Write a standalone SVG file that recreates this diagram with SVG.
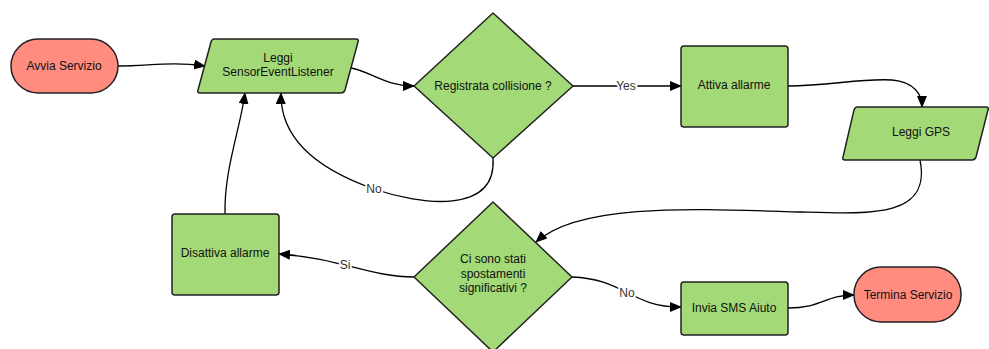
<svg xmlns="http://www.w3.org/2000/svg" width="989" height="349" viewBox="0 0 989 349">
  <defs>
    <marker id="arrow" markerWidth="12" markerHeight="10" refX="11" refY="5" orient="auto" markerUnits="userSpaceOnUse">
      <path d="M0,0 L12,5 L0,10 Z" fill="#000"/>
    </marker>
    <style>
      .term { fill: #FF8C7F; stroke: #222; stroke-width: 1.5; }
      .proc { fill: #A3D977; stroke: #222; stroke-width: 1.5; stroke-linejoin: round; }
      .lbl { font-family: "Liberation Sans", Arial, sans-serif; font-size: 12px; fill: #111; text-anchor: middle; }
      .edge { fill: none; stroke: #000; stroke-width: 1.3; marker-end: url(#arrow); }
      .elbl { font-family: "Liberation Sans", Arial, sans-serif; font-size: 12px; fill: #333; text-anchor: middle; stroke: #fff; stroke-width: 4; paint-order: stroke; }
    </style>
  </defs>
  <rect width="989" height="349" fill="#fff"/>

  <!-- connectors -->
  <g id="connectors">
    <path class="edge" d="M118,66 C150,66 170,61 205,66"/>
    <path class="edge" d="M351,68 C372,72 385,86 414,86"/>
    <path class="edge" d="M573,86 L681,86"/>
    <path class="edge" d="M788,86 C830,86 860,78 892,80 C915,82 922,95 922,107"/>
    <path class="edge" d="M920,160 C932,218 870,214 800,212 C700,209 580,202 536,242"/>
    <path class="edge" d="M414,277 C370,277 340,258 279,254"/>
    <path class="edge" d="M572,277 C625,279 630,307 681,307"/>
    <path class="edge" d="M788,308 C822,308 825,295 854,295"/>
    <path class="edge" d="M493,158 C497,215 420,205 374,189 C320,170 280,140 281,93"/>
    <path class="edge" d="M225,214 C224,170 240,130 245,93"/>
    <text class="elbl" x="626" y="90">Yes</text>
    <text class="elbl" x="374" y="193">No</text>
    <text class="elbl" x="345" y="269">Si</text>
    <text class="elbl" x="627" y="297">No</text>
  </g>

  <g id="avvia">
    <rect class="term" x="11" y="39" width="107" height="54" rx="27" ry="27"/>
    <text class="lbl" x="64" y="70">Avvia Servizio</text>
  </g>

  <g id="leggi-sensor">
    <path class="proc" d="M214,39 L356,39 Q359,39 358,42 L345,90 Q344,93 341,93 L200,93 Q197,93 198,90 L211,42 Q212,39 214,39 Z"/>
    <text class="lbl" x="278" y="62">Leggi</text>
    <text class="lbl" x="278" y="76">SensorEventListener</text>
  </g>

  <g id="registrata">
    <path class="proc" d="M493,13 L573,86 L493,158 L414,86 Z"/>
    <text class="lbl" x="493" y="90">Registrata collisione ?</text>
  </g>

  <g id="attiva">
    <rect class="proc" x="681" y="46" width="107" height="81" rx="3" ry="3"/>
    <text class="lbl" x="734" y="89">Attiva allarme</text>
  </g>

  <g id="leggi-gps">
    <path class="proc" d="M857,107 L986,107 Q989,107 988,110 L976,157 Q975,160 972,160 L845,160 Q842,160 843,157 L854,110 Q855,107 857,107 Z"/>
    <text class="lbl" x="921" y="136">Leggi GPS</text>
  </g>

  <g id="spostamenti">
    <path class="proc" d="M493,202 L572,277 L493,352 L414,277 Z"/>
    <text class="lbl" x="493" y="263">Ci sono stati</text>
    <text class="lbl" x="493" y="278">spostamenti</text>
    <text class="lbl" x="493" y="292">significativi ?</text>
  </g>

  <g id="disattiva">
    <rect class="proc" x="172" y="214" width="107" height="81" rx="3" ry="3"/>
    <text class="lbl" x="225" y="257">Disattiva allarme</text>
  </g>

  <g id="invia-sms">
    <rect class="proc" x="681" y="282" width="107" height="53" rx="3" ry="3"/>
    <text class="lbl" x="734" y="312">Invia SMS Aiuto</text>
  </g>

  <g id="termina">
    <rect class="term" x="854" y="267" width="107" height="55" rx="27" ry="27"/>
    <text class="lbl" x="908" y="299">Termina Servizio</text>
  </g>
</svg>
